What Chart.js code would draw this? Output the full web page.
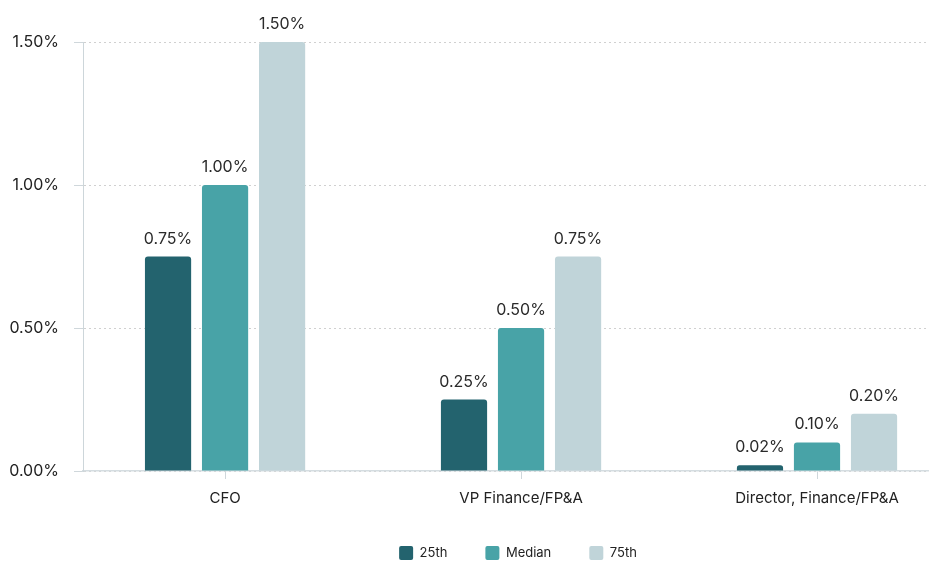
<!DOCTYPE html>
<html>
<head>
<meta charset="utf-8">
<script src="https://cdn.jsdelivr.net/npm/chart.js@4"></script>
<style>
  body { margin: 0; background: #fff; }
  #wrap { width: 940px; height: 580px; }
</style>
</head>
<body>
<div id="wrap"><canvas id="myChart"></canvas></div>
<script>
// data
var categories = ['CFO', 'VP Finance/FP&A', 'Director, Finance/FP&A'];
var seriesNames = ['25th', 'Median', '75th'];
var p25 = [0.75, 0.25, 0.02];
var median = [1.00, 0.50, 0.10];
var p75 = [1.50, 0.75, 0.20];
var yTicks = [0, 0.5, 1.0, 1.5];

var colors = ['#23636e', '#48a3a7', '#c0d4d9'];

Chart.defaults.font.family = 'Inter, "Noto Sans", sans-serif';
Chart.defaults.color = '#222';

function pct(v) { return v.toFixed(2) + '%'; }

function toPoints(arr) {
    return arr.map(function (v, i) { return { x: i, y: v }; });
}

// value labels above each bar
var barLabels = {
    id: 'barLabels',
    afterDatasetsDraw: function (chart) {
        var ctx = chart.ctx;
        ctx.save();
        ctx.font = '16px Inter, "Noto Sans", sans-serif';
        ctx.fillStyle = '#2a2a2a';
        ctx.textAlign = 'center';
        ctx.textBaseline = 'alphabetic';
        chart.data.datasets.forEach(function (ds, di) {
            var meta = chart.getDatasetMeta(di);
            meta.data.forEach(function (bar, i) {
                ctx.fillText(pct(ds.data[i].y), bar.x, bar.y - 13);
            });
        });
        ctx.restore();
    }
};

// legend sits a bit right of canvas centre in the original
var legendShift = {
    id: 'legendShift',
    afterLayout: function (chart) {
        chart.legend.left += 54;
        chart.legend.right += 54;
    }
};

var ctx = document.getElementById('myChart').getContext('2d');

var myChart = new Chart(ctx, {
    type: 'bar',
    data: {
        datasets: [p25, median, p75].map(function (arr, i) {
            return {
                label: seriesNames[i],
                data: toPoints(arr),
                backgroundColor: colors[i],
                borderRadius: 3,
                borderSkipped: 'start',
                categoryPercentage: 0.578,
                barPercentage: 0.81
            };
        })
    },
    plugins: [barLabels, legendShift],
    options: {
        responsive: true,
        maintainAspectRatio: false,
        animation: false,
        layout: {
            padding: { top: 42, right: 12, bottom: 10, left: 0 }
        },
        scales: {
            x: {
                type: 'linear',
                offset: false,
                min: -0.48,
                max: 2.375,
                afterBuildTicks: function (scale) {
                    scale.ticks = categories.map(function (c, i) { return { value: i }; });
                },
                afterFit: function (scale) { scale.height = 37; },
                ticks: {
                    font: { size: 15 },
                    color: '#222',
                    padding: 10,
                    maxRotation: 0,
                    autoSkip: false,
                    callback: function (value) { return categories[value]; }
                },
                grid: {
                    offset: false,
                    drawOnChartArea: false,
                    drawTicks: true,
                    tickLength: 8,
                    tickColor: '#cfd7db'
                },
                border: { display: true, color: '#d5dde1', width: 1.5 }
            },
            y: {
                min: 0,
                max: 1.5,
                afterBuildTicks: function (scale) {
                    scale.ticks = yTicks.map(function (v) { return { value: v }; });
                },
                afterFit: function (scale) { scale.width = 83; },
                ticks: {
                    font: { size: 16 },
                    color: '#222',
                    padding: 15,
                    callback: function (value) { return pct(value); }
                },
                grid: {
                    color: '#d0d0d0',
                    tickLength: 9,
                    tickColor: '#cfd7db',
                    tickBorderDash: []
                },
                border: { display: true, color: '#cdd6da', width: 1, dash: [2, 3] }
            }
        },
        plugins: {
            legend: {
                position: 'bottom',
                labels: {
                    boxWidth: 14,
                    boxHeight: 14,
                    useBorderRadius: true,
                    borderRadius: 2,
                    padding: 38,
                    color: '#222',
                    font: { size: 13 }
                }
            },
            tooltip: { enabled: false }
        }
    }
});
</script>
</body>
</html>
